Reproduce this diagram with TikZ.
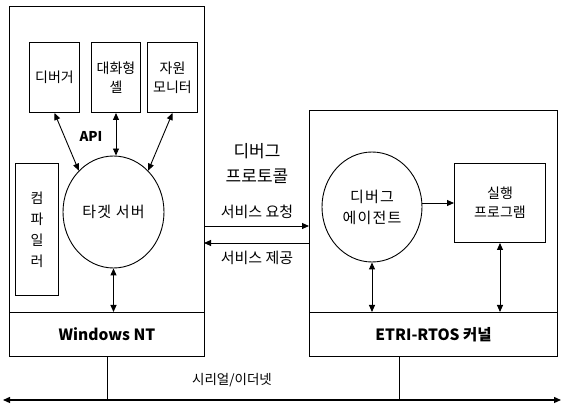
\documentclass[tikz,border=0pt]{standalone}
\usepackage{fontspec}
\setmainfont{Noto Sans CJK KR}
\usetikzlibrary{positioning,shapes.geometric,arrows.meta}
\tikzset{
	>={Triangle[length=7pt,width=6pt]},
	frame/.style={draw, line width=1.1pt, anchor=north west, inner sep=0pt},% the large host / target frames
	bar/.style={draw, line width=1.1pt, anchor=north west, inner sep=0pt, font=\fontsize{15.5}{17}\selectfont\bfseries},
	box/.style={draw, line width=1pt, anchor=north west, inner sep=1pt, align=center, minimum width=50pt, minimum height=70pt, font=\fontsize{14}{19}\selectfont},
	proc/.style={ellipse, draw, line width=0.9pt, inner sep=0pt, align=center, font=\fontsize{15}{21}\selectfont\addfontfeature{LetterSpace=8}},
	link/.style={<->, line width=0.9pt},
	lbl/.style={inner sep=1pt, font=\fontsize{15}{18}\selectfont}
}

\begin{document}
\begin{tikzpicture}[x=1pt,y=-1pt]
            \useasboundingbox (0,0) rectangle (563,411);
            % host side
            \node[frame, minimum width=195pt, minimum height=350pt] (host) at (9,6) {};
            \node[bar, minimum width=195pt, minimum height=44pt] (nt) at (9,312) {Windows NT};
            \node[box] (dbg) at (29,42) {디버거};
            \node[box, minimum width=49pt] (shell) at (91,42) {대화형\\셸};
            \node[box] (mon) at (147,42) {자원\\모니터};
            \node[box, minimum width=43pt, minimum height=132pt, font=\fontsize{14}{21}\selectfont] (comp) at (15,163) {컴\\파\\일\\러};
            \node[proc, minimum width=101pt, minimum height=112pt] (ts) at (113.5,212) {타겟 서버};
            \node[inner sep=0pt, font=\fontsize{13.5}{15}\selectfont\bfseries] (api) at (91,136) {API};
            \draw[link] (dbg.south) -- (ts.130);
            \draw[link] (shell.south) -- (shell.south |- ts.north);
            \draw[link] (mon.south) -- (ts.50);
            \draw[link] (ts.south) -- (ts.south |- nt.north);
            % target side
            \node[frame, minimum width=248pt, minimum height=246pt] (target) at (309,110) {};
            \node[bar, minimum width=248pt, minimum height=44pt] (etri) at (309,312) {ETRI-RTOS 커널};
            \node[proc, minimum width=100pt, minimum height=110pt] (agent) at (372,207) {디버그\\에이전트};
            \node[box, minimum width=91pt, minimum height=79pt] (prog) at (454,163) {실행\\프로그램};
            \draw[->, line width=0.9pt] (prog.west -| agent.east) -- (prog.west);
            \draw[link] (agent.south) -- (agent.south |- etri.north);
            \draw[link] (prog.south) -- (prog.south |- etri.north);
            % protocol between the two
            \node[lbl, align=center, font=\fontsize{17}{25}\selectfont] (proto) at (257,164) {디버그\\프로토콜};
            \coordinate (reqA) at (204,226);
            \coordinate (resA) at (204,243);
            \draw[->, line width=0.9pt] (reqA) -- (reqA -| target.west);
            \draw[->, line width=0.9pt] (resA -| target.west) -- (resA);
            \node[lbl] (req) at (257,212) {서비스 요청};
            \node[lbl] (res) at (257,258) {서비스 제공};
            % network
            \coordinate (netL) at (3,400);
            \coordinate (netR) at (561,400);
            \coordinate (tapR) at (399,400);
            \draw[<->, line width=1.3pt] (netL) -- (netR);
            \draw[line width=1pt] (nt.south) -- (nt.south |- netL);
            \draw[line width=1pt] (tapR |- etri.south) -- (tapR);
            \node[lbl, font=\fontsize{13.5}{15}\selectfont] (net) at (232,380) {시리얼/이더넷};
\end{tikzpicture}
\end{document}
